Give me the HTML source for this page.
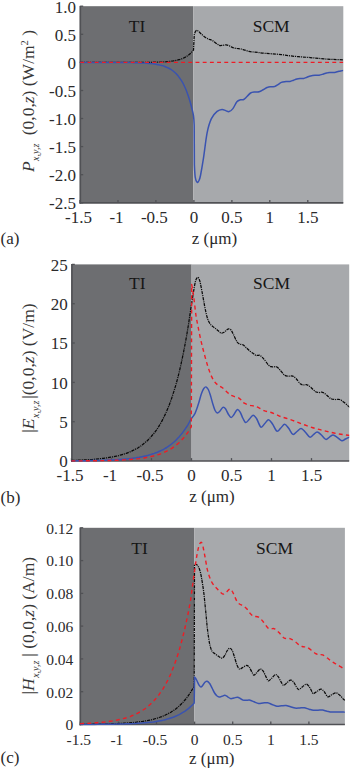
<!DOCTYPE html>
<html><head><meta charset="utf-8"><title>Figure</title>
<style>
html,body{margin:0;padding:0;background:#fff;}
body{width:350px;height:769px;overflow:hidden;}
svg{display:block;font-family:"Liberation Serif",serif;fill:#2b2a2b;}
</style></head><body>
<svg width="350" height="769" viewBox="0 0 350 769">
<rect x="0" y="0" width="350" height="769" fill="#ffffff"/>
<rect x="80.3" y="6.2" width="113.0" height="196.6" fill="#6d6e71"/>
<rect x="193.3" y="6.2" width="150.0" height="196.6" fill="#a7a9ac"/>
<clipPath id="ca"><rect x="79.3" y="5.2" width="264.0" height="198.6"/></clipPath>
<line x1="80.3" y1="5.9" x2="80.3" y2="203.7" stroke="#505155" stroke-width="1.7"/>
<line x1="79.5" y1="202.8" x2="343.3" y2="202.8" stroke="#505155" stroke-width="1.7"/>
<line x1="80.3" y1="202.8" x2="83.2" y2="202.8" stroke="#505155" stroke-width="1.3"/>
<text x="75.9" y="209.2" font-size="17" text-anchor="end" >-2.5</text>
<line x1="80.3" y1="174.7" x2="83.2" y2="174.7" stroke="#505155" stroke-width="1.3"/>
<text x="75.9" y="181.1" font-size="17" text-anchor="end" >-2.0</text>
<line x1="80.3" y1="146.6" x2="83.2" y2="146.6" stroke="#505155" stroke-width="1.3"/>
<text x="75.9" y="153.0" font-size="17" text-anchor="end" >-1.5</text>
<line x1="80.3" y1="118.5" x2="83.2" y2="118.5" stroke="#505155" stroke-width="1.3"/>
<text x="75.9" y="124.9" font-size="17" text-anchor="end" >-1.0</text>
<line x1="80.3" y1="90.5" x2="83.2" y2="90.5" stroke="#505155" stroke-width="1.3"/>
<text x="75.9" y="96.9" font-size="17" text-anchor="end" >-0.5</text>
<line x1="80.3" y1="62.4" x2="83.2" y2="62.4" stroke="#505155" stroke-width="1.3"/>
<text x="75.9" y="68.8" font-size="17" text-anchor="end" >0</text>
<line x1="80.3" y1="34.3" x2="83.2" y2="34.3" stroke="#505155" stroke-width="1.3"/>
<text x="75.9" y="40.7" font-size="17" text-anchor="end" >0.5</text>
<line x1="80.3" y1="6.2" x2="83.2" y2="6.2" stroke="#505155" stroke-width="1.3"/>
<text x="75.9" y="12.6" font-size="17" text-anchor="end" >1.0</text>
<line x1="80.0" y1="202.8" x2="80.0" y2="199.9" stroke="#505155" stroke-width="1.3"/>
<text x="78.5" y="222.6" font-size="17" text-anchor="middle" >-1.5</text>
<line x1="118.0" y1="202.8" x2="118.0" y2="199.9" stroke="#505155" stroke-width="1.3"/>
<text x="116.5" y="222.6" font-size="17" text-anchor="middle" >-1</text>
<line x1="155.9" y1="202.8" x2="155.9" y2="199.9" stroke="#505155" stroke-width="1.3"/>
<text x="154.4" y="222.6" font-size="17" text-anchor="middle" >-0.5</text>
<line x1="193.9" y1="202.8" x2="193.9" y2="199.9" stroke="#505155" stroke-width="1.3"/>
<text x="193.9" y="222.6" font-size="17" text-anchor="middle" >0</text>
<line x1="231.9" y1="202.8" x2="231.9" y2="199.9" stroke="#505155" stroke-width="1.3"/>
<text x="231.9" y="222.6" font-size="17" text-anchor="middle" >0.5</text>
<line x1="269.8" y1="202.8" x2="269.8" y2="199.9" stroke="#505155" stroke-width="1.3"/>
<text x="269.8" y="222.6" font-size="17" text-anchor="middle" >1</text>
<line x1="307.8" y1="202.8" x2="307.8" y2="199.9" stroke="#505155" stroke-width="1.3"/>
<text x="307.8" y="222.6" font-size="17" text-anchor="middle" >1.5</text>
<g clip-path="url(#ca)">
<path d="M79.8,62.4C80.3,62.4 81.8,62.4 82.8,62.4C83.7,62.4 84.7,62.4 85.7,62.4C86.6,62.4 87.6,62.4 88.6,62.4C89.6,62.4 90.5,62.4 91.5,62.4C92.5,62.4 93.4,62.4 94.4,62.4C95.4,62.4 96.4,62.4 97.3,62.4C98.3,62.4 99.3,62.4 100.2,62.4C101.2,62.4 102.2,62.4 103.2,62.4C104.1,62.4 105.1,62.4 106.1,62.4C107.0,62.4 108.0,62.4 109.0,62.4C110.0,62.4 110.9,62.4 111.9,62.4C112.9,62.4 113.8,62.4 114.8,62.4C115.8,62.4 116.8,62.4 117.7,62.4C118.7,62.4 119.7,62.4 120.6,62.4C121.6,62.4 122.6,62.4 123.6,62.4C124.5,62.4 125.5,62.4 126.5,62.4C127.4,62.4 128.4,62.4 129.4,62.4C130.3,62.4 131.3,62.4 132.3,62.4C133.3,62.4 134.2,62.4 135.2,62.4C136.2,62.4 137.1,62.4 138.1,62.4C139.1,62.4 140.1,62.4 141.0,62.4C142.0,62.3 143.0,62.3 143.9,62.3C144.9,62.3 145.9,62.3 146.9,62.3C147.8,62.3 148.8,62.3 149.8,62.3C150.7,62.3 151.7,62.2 152.7,62.2C153.7,62.2 154.6,62.2 155.6,62.2C156.6,62.1 157.5,62.1 158.5,62.1C159.5,62.1 160.5,62.0 161.4,62.0C162.4,61.9 163.4,61.9 164.3,61.8C165.3,61.8 166.3,61.7 167.3,61.6C168.2,61.5 169.2,61.5 170.2,61.3C171.1,61.2 172.1,61.1 173.1,61.0C174.0,60.8 175.0,60.6 176.0,60.4C177.0,60.2 177.9,60.0 178.9,59.7C179.9,59.5 180.8,59.2 181.8,58.8C182.8,58.4 183.8,58.0 184.7,57.5C185.7,57.0 186.7,56.4 187.6,55.7C188.6,55.0 189.6,54.3 190.6,53.3C191.5,52.4 193.0,50.6 193.5,50.1L194.3,34.5C194.5,34.0 195.0,32.3 195.4,31.6C195.8,30.9 196.3,30.4 196.9,30.4C197.5,30.4 198.1,31.1 198.8,31.6C199.5,32.2 199.9,32.7 201.0,33.7C202.1,34.7 204.3,36.7 205.6,37.6C206.9,38.5 207.9,38.7 209.0,39.2C210.1,39.7 211.2,39.9 212.4,40.6C213.6,41.3 214.8,42.4 216.0,43.2C217.2,44.0 218.2,45.0 219.3,45.4C220.4,45.8 221.4,45.5 222.5,45.4C223.6,45.3 224.9,44.7 226.1,44.8C227.3,44.9 228.3,45.4 229.5,45.9C230.7,46.4 231.8,47.3 233.0,47.7C234.2,48.1 235.7,48.3 237.0,48.5C238.3,48.7 239.7,48.7 241.0,49.0C242.3,49.3 243.7,49.8 245.0,50.2C246.3,50.6 247.6,51.1 249.0,51.4C250.4,51.7 252.0,51.8 253.5,52.0C255.0,52.2 256.3,52.3 258.1,52.5C259.9,52.7 262.0,53.1 264.3,53.3C266.6,53.5 269.1,53.6 272.0,53.8C274.9,54.0 278.4,54.3 281.4,54.6C284.4,54.9 287.1,55.4 290.0,55.8C292.9,56.1 295.8,56.5 298.6,56.7C301.4,57.0 304.1,57.1 307.0,57.3C309.9,57.5 312.9,57.8 315.7,58.1C318.5,58.4 321.1,58.7 324.0,58.9C326.9,59.1 329.7,59.2 332.9,59.4C336.1,59.5 341.6,59.7 343.3,59.8" fill="none" stroke="#0a0a0a" stroke-width="1.25" stroke-linejoin="round" stroke-dasharray="3.2 0.9 1.1 0.9"/>
<path d="M79.8,62.4C80.3,62.4 81.8,62.4 82.8,62.4C83.7,62.4 84.7,62.4 85.7,62.4C86.6,62.4 87.6,62.4 88.6,62.4C89.6,62.4 90.5,62.4 91.5,62.4C92.5,62.4 93.4,62.4 94.4,62.4C95.4,62.4 96.4,62.4 97.3,62.4C98.3,62.4 99.3,62.4 100.2,62.4C101.2,62.4 102.2,62.4 103.2,62.4C104.1,62.4 105.1,62.4 106.1,62.4C107.0,62.4 108.0,62.4 109.0,62.4C110.0,62.4 110.9,62.4 111.9,62.4C112.9,62.4 113.8,62.4 114.8,62.4C115.8,62.5 116.8,62.5 117.7,62.5C118.7,62.5 119.7,62.5 120.6,62.5C121.6,62.5 122.6,62.5 123.6,62.5C124.5,62.5 125.5,62.5 126.5,62.5C127.4,62.5 128.4,62.6 129.4,62.6C130.3,62.6 131.3,62.6 132.3,62.6C133.3,62.6 134.2,62.7 135.2,62.7C136.2,62.7 137.1,62.7 138.1,62.8C139.1,62.8 140.1,62.8 141.0,62.9C142.0,62.9 143.0,63.0 143.9,63.0C144.9,63.1 145.9,63.1 146.9,63.2C147.8,63.3 148.8,63.4 149.8,63.5C150.7,63.6 151.7,63.7 152.7,63.8C153.7,63.9 154.6,64.0 155.6,64.2C156.6,64.4 157.5,64.5 158.5,64.7C159.5,64.9 160.5,65.2 161.4,65.4C162.4,65.7 163.4,66.0 164.3,66.3C165.3,66.7 166.3,67.0 167.3,67.5C168.2,67.9 169.2,68.4 170.2,69.0C171.1,69.6 172.1,70.2 173.1,71.0C174.0,71.7 175.0,72.6 176.0,73.5C177.0,74.5 177.9,75.6 178.9,76.9C179.9,78.1 180.8,79.5 181.8,81.2C182.8,82.8 183.8,84.7 184.7,86.8C185.7,88.9 186.7,91.3 187.6,94.1C188.6,96.9 189.6,99.9 190.6,103.5C191.5,107.1 192.9,112.0 193.5,115.8C194.1,119.5 194.1,124.3 194.2,126.0L194.4,165.0C194.5,167.0 194.8,174.1 195.2,177.0C195.6,179.9 196.5,181.7 197.1,182.3C197.7,182.9 198.4,181.7 199.0,180.5C199.6,179.3 199.9,178.7 200.6,175.0C201.3,171.3 202.3,165.6 203.4,158.6C204.5,151.6 205.8,139.6 207.1,132.9C208.4,126.2 209.7,122.2 211.4,118.6C213.1,115.0 215.3,112.9 217.1,111.4C218.9,109.9 220.6,109.5 222.0,109.4C223.4,109.3 224.5,110.2 225.7,110.6C226.9,111.0 227.9,111.9 229.1,111.6C230.3,111.3 231.6,110.2 232.9,108.6C234.2,107.0 235.6,103.3 236.9,101.8C238.2,100.3 239.4,100.2 240.5,99.8C241.6,99.4 242.6,100.0 243.7,99.5C244.8,99.0 245.8,97.6 247.0,96.5C248.2,95.4 249.3,93.8 250.6,93.0C251.9,92.2 253.6,92.2 255.0,92.0C256.4,91.8 257.7,92.2 259.1,91.8C260.5,91.4 262.1,90.3 263.5,89.5C264.9,88.7 266.4,87.7 267.7,87.2C268.9,86.7 269.9,86.8 271.0,86.7C272.1,86.6 273.4,86.9 274.6,86.6C275.8,86.2 276.9,85.3 278.0,84.6C279.1,83.9 280.1,82.9 281.4,82.4C282.7,81.9 284.6,81.8 286.0,81.6C287.4,81.4 288.8,81.7 290.0,81.5C291.2,81.3 292.4,80.6 293.5,80.2C294.6,79.8 295.8,79.3 296.9,79.0C298.0,78.7 298.9,78.6 300.0,78.5C301.1,78.4 302.5,78.6 303.7,78.4C304.9,78.2 305.9,77.6 307.0,77.2C308.1,76.8 309.3,76.2 310.6,75.9C311.9,75.6 313.6,75.4 315.0,75.3C316.4,75.2 317.7,75.4 319.1,75.2C320.5,75.0 322.1,74.4 323.5,74.0C324.9,73.6 326.4,73.0 327.7,72.8C328.9,72.5 329.9,72.6 331.0,72.5C332.1,72.4 333.3,72.6 334.6,72.4C335.9,72.2 337.6,71.6 339.0,71.3C340.4,71.0 342.6,70.6 343.3,70.4" fill="none" stroke="#3a53b0" stroke-width="1.5" stroke-linejoin="round"/>
<path d="M80.3,62.4L343.3,62.4" fill="none" stroke="#ee1c25" stroke-width="1.4" stroke-linejoin="round" stroke-dasharray="3.9 3.3"/>
</g>
<rect x="71.9" y="264.4" width="119.7" height="196.6" fill="#6d6e71"/>
<rect x="191.6" y="264.4" width="157.6" height="196.6" fill="#a7a9ac"/>
<clipPath id="cb"><rect x="70.9" y="263.4" width="278.3" height="198.6"/></clipPath>
<line x1="71.9" y1="264.1" x2="71.9" y2="461.9" stroke="#505155" stroke-width="1.7"/>
<line x1="71.1" y1="461.0" x2="349.2" y2="461.0" stroke="#505155" stroke-width="1.7"/>
<line x1="71.9" y1="461.0" x2="74.8" y2="461.0" stroke="#505155" stroke-width="1.3"/>
<text x="67.7" y="467.4" font-size="17" text-anchor="end" >0</text>
<line x1="71.9" y1="421.7" x2="74.8" y2="421.7" stroke="#505155" stroke-width="1.3"/>
<text x="67.7" y="428.1" font-size="17" text-anchor="end" >5</text>
<line x1="71.9" y1="382.4" x2="74.8" y2="382.4" stroke="#505155" stroke-width="1.3"/>
<text x="67.7" y="388.8" font-size="17" text-anchor="end" >10</text>
<line x1="71.9" y1="343.0" x2="74.8" y2="343.0" stroke="#505155" stroke-width="1.3"/>
<text x="67.7" y="349.4" font-size="17" text-anchor="end" >15</text>
<line x1="71.9" y1="303.7" x2="74.8" y2="303.7" stroke="#505155" stroke-width="1.3"/>
<text x="67.7" y="310.1" font-size="17" text-anchor="end" >20</text>
<line x1="71.9" y1="264.4" x2="74.8" y2="264.4" stroke="#505155" stroke-width="1.3"/>
<text x="67.7" y="270.8" font-size="17" text-anchor="end" >25</text>
<line x1="71.5" y1="461.0" x2="71.5" y2="458.1" stroke="#505155" stroke-width="1.3"/>
<text x="70.0" y="480.8" font-size="17" text-anchor="middle" >-1.5</text>
<line x1="111.5" y1="461.0" x2="111.5" y2="458.1" stroke="#505155" stroke-width="1.3"/>
<text x="110.0" y="480.8" font-size="17" text-anchor="middle" >-1</text>
<line x1="151.5" y1="461.0" x2="151.5" y2="458.1" stroke="#505155" stroke-width="1.3"/>
<text x="150.0" y="480.8" font-size="17" text-anchor="middle" >-0.5</text>
<line x1="191.5" y1="461.0" x2="191.5" y2="458.1" stroke="#505155" stroke-width="1.3"/>
<text x="191.5" y="480.8" font-size="17" text-anchor="middle" >0</text>
<line x1="231.5" y1="461.0" x2="231.5" y2="458.1" stroke="#505155" stroke-width="1.3"/>
<text x="231.5" y="480.8" font-size="17" text-anchor="middle" >0.5</text>
<line x1="271.5" y1="461.0" x2="271.5" y2="458.1" stroke="#505155" stroke-width="1.3"/>
<text x="271.5" y="480.8" font-size="17" text-anchor="middle" >1</text>
<line x1="311.5" y1="461.0" x2="311.5" y2="458.1" stroke="#505155" stroke-width="1.3"/>
<text x="311.5" y="480.8" font-size="17" text-anchor="middle" >1.5</text>
<g clip-path="url(#cb)">
<path d="M71.5,460.4C72.0,460.4 73.5,460.3 74.5,460.3C75.5,460.3 76.6,460.2 77.6,460.2C78.6,460.2 79.6,460.1 80.6,460.1C81.6,460.0 82.6,460.0 83.6,459.9C84.6,459.9 85.6,459.8 86.7,459.8C87.7,459.7 88.7,459.7 89.7,459.6C90.7,459.5 91.7,459.4 92.7,459.4C93.7,459.3 94.7,459.2 95.7,459.1C96.8,459.0 97.8,458.9 98.8,458.8C99.8,458.7 100.8,458.6 101.8,458.5C102.8,458.4 103.8,458.3 104.8,458.1C105.8,458.0 106.9,457.9 107.9,457.7C108.9,457.6 109.9,457.4 110.9,457.2C111.9,457.0 112.9,456.9 113.9,456.7C114.9,456.4 116.0,456.2 117.0,456.0C118.0,455.8 119.0,455.5 120.0,455.2C121.0,455.0 122.0,454.7 123.0,454.4C124.0,454.1 125.0,453.7 126.1,453.4C127.1,453.0 128.1,452.6 129.1,452.2C130.1,451.8 131.1,451.4 132.1,450.9C133.1,450.4 134.1,449.9 135.1,449.4C136.2,448.9 137.2,448.3 138.2,447.7C139.2,447.0 140.2,446.4 141.2,445.7C142.2,444.9 143.2,444.2 144.2,443.3C145.2,442.5 146.3,441.6 147.3,440.7C148.3,439.7 149.3,438.7 150.3,437.6C151.3,436.5 152.3,435.4 153.3,434.1C154.3,432.9 155.4,431.5 156.4,430.1C157.4,428.6 158.4,427.1 159.4,425.4C160.4,423.7 161.4,422.0 162.4,420.1C163.4,418.1 164.4,416.1 165.5,413.9C166.5,411.7 167.5,409.3 168.5,406.8C169.5,404.3 170.5,401.6 171.5,398.7C172.5,395.7 173.5,392.6 174.5,389.3C175.6,385.9 176.6,382.3 177.6,378.5C178.6,374.6 179.6,370.5 180.6,366.1C181.6,361.6 182.6,356.9 183.6,351.8C184.6,346.7 185.7,341.2 186.7,335.3C187.7,329.4 188.8,322.4 189.7,316.4C190.6,310.4 191.4,304.7 192.3,299.3C193.2,293.9 194.2,287.3 194.9,283.9C195.6,280.5 195.8,280.1 196.3,279.0C196.8,277.9 197.3,277.3 197.8,277.3C198.3,277.3 198.8,278.1 199.2,279.2C199.6,280.3 199.8,280.5 200.5,283.9C201.2,287.2 202.7,295.3 203.4,299.3C204.2,303.3 204.4,305.1 205.0,308.0C205.6,310.9 206.3,314.2 206.9,316.4C207.5,318.6 207.9,319.7 208.5,321.0C209.1,322.3 209.6,323.2 210.3,324.1C211.0,325.0 211.8,325.7 212.7,326.4C213.5,327.1 214.4,327.6 215.4,328.4C216.4,329.2 217.5,330.2 218.5,331.0C219.5,331.8 220.5,333.0 221.4,333.2C222.3,333.4 223.1,332.7 224.0,332.2C224.9,331.7 225.8,330.7 226.6,330.1C227.4,329.6 227.9,328.9 228.6,328.9C229.3,328.9 230.2,329.1 231.0,330.0C231.8,330.9 232.5,332.5 233.5,334.5C234.5,336.5 236.0,340.4 237.1,342.0C238.2,343.6 239.0,343.7 240.0,344.2C241.0,344.7 241.9,344.2 242.9,344.8C243.9,345.4 244.8,346.4 246.0,347.5C247.2,348.6 248.7,350.1 250.0,351.2C251.3,352.3 253.0,353.3 254.0,354.0C255.0,354.7 255.4,355.3 256.1,355.5C256.8,355.7 257.3,355.4 258.0,355.4C258.7,355.4 259.1,354.9 260.1,355.5C261.1,356.1 262.7,357.7 264.1,359.3C265.5,360.9 267.4,364.1 268.7,365.3C270.0,366.6 270.8,366.5 272.1,366.8C273.4,367.1 275.4,366.3 276.7,366.9C278.0,367.4 278.8,368.7 280.1,370.1C281.4,371.5 283.3,374.2 284.7,375.2C286.1,376.2 287.2,376.0 288.5,376.2C289.8,376.4 291.4,375.7 292.7,376.1C293.9,376.5 294.7,377.2 296.0,378.5C297.3,379.8 299.1,382.7 300.3,383.8C301.6,384.9 302.4,384.7 303.5,384.9C304.6,385.1 305.9,384.4 307.1,384.8C308.4,385.2 309.6,386.3 311.0,387.5C312.4,388.7 314.4,391.0 315.7,391.8C317.0,392.6 317.9,392.4 319.0,392.5C320.1,392.6 321.4,391.9 322.6,392.3C323.9,392.7 325.1,393.9 326.5,395.0C327.9,396.1 329.6,398.1 331.1,398.8C332.6,399.6 334.1,399.4 335.5,399.5C336.9,399.6 338.3,399.0 339.7,399.5C341.1,400.0 342.6,401.2 344.0,402.3C345.4,403.4 347.3,405.2 348.3,406.1C349.3,407.0 349.7,407.3 350.0,407.5" fill="none" stroke="#0a0a0a" stroke-width="1.25" stroke-linejoin="round" stroke-dasharray="3.2 0.9 1.1 0.9"/>
<path d="M71.5,460.8C72.0,460.8 73.5,460.8 74.6,460.8C75.6,460.8 76.6,460.8 77.6,460.8C78.7,460.8 79.7,460.8 80.7,460.8C81.7,460.7 82.8,460.7 83.8,460.7C84.8,460.7 85.8,460.7 86.9,460.7C87.9,460.7 88.9,460.6 89.9,460.6C90.9,460.6 92.0,460.6 93.0,460.6C94.0,460.5 95.0,460.5 96.1,460.5C97.1,460.5 98.1,460.4 99.1,460.4C100.2,460.4 101.2,460.4 102.2,460.3C103.2,460.3 104.3,460.3 105.3,460.2C106.3,460.2 107.3,460.1 108.3,460.1C109.4,460.1 110.4,460.0 111.4,460.0C112.4,459.9 113.5,459.9 114.5,459.8C115.5,459.8 116.5,459.7 117.6,459.6C118.6,459.6 119.6,459.5 120.6,459.4C121.7,459.3 122.7,459.3 123.7,459.2C124.7,459.1 125.8,459.0 126.8,458.9C127.8,458.8 128.8,458.7 129.8,458.6C130.9,458.4 131.9,458.3 132.9,458.2C133.9,458.1 135.0,457.9 136.0,457.8C137.0,457.6 138.0,457.4 139.1,457.3C140.1,457.1 141.1,456.9 142.1,456.7C143.2,456.5 144.2,456.3 145.2,456.0C146.2,455.8 147.2,455.5 148.3,455.3C149.3,455.0 150.3,454.7 151.3,454.4C152.4,454.1 153.4,453.7 154.4,453.4C155.4,453.0 156.5,452.6 157.5,452.2C158.5,451.8 159.5,451.3 160.6,450.8C161.6,450.4 162.6,449.8 163.6,449.3C164.6,448.7 165.7,448.1 166.7,447.5C167.7,446.8 168.7,446.2 169.8,445.4C170.8,444.7 171.8,443.9 172.8,443.0C173.9,442.2 174.9,441.3 175.9,440.3C176.9,439.3 178.0,438.2 179.0,437.1C180.0,435.9 181.0,434.7 182.0,433.4C183.1,432.1 184.1,430.7 185.1,429.2C186.1,427.7 187.2,426.0 188.2,424.3C189.2,422.5 190.5,420.0 191.3,418.7C192.1,417.4 192.4,417.3 193.0,416.5C193.6,415.7 194.2,415.0 194.9,413.7C195.6,412.4 196.2,410.4 196.9,408.5C197.6,406.6 198.2,404.5 199.0,402.0C199.8,399.5 200.6,395.9 201.4,393.7C202.2,391.4 203.0,389.6 203.8,388.5C204.6,387.4 205.2,386.7 206.0,386.9C206.8,387.1 207.5,388.0 208.3,389.5C209.1,391.0 209.8,393.5 210.6,396.0C211.4,398.5 212.2,402.1 213.0,404.5C213.8,406.9 214.4,409.1 215.1,410.5C215.8,411.9 216.6,412.8 217.4,412.9C218.2,413.0 219.1,411.9 220.0,411.0C220.9,410.1 222.0,407.8 222.9,407.4C223.8,407.0 224.6,407.6 225.5,408.8C226.4,410.0 227.6,413.1 228.5,414.5C229.4,415.9 230.2,417.5 231.1,417.5C232.0,417.5 233.0,415.8 234.0,414.5C235.0,413.2 236.1,410.1 237.1,409.7C238.1,409.2 239.0,410.3 240.0,411.8C241.0,413.3 242.0,416.7 243.0,418.5C244.0,420.3 244.7,422.4 245.8,422.5C246.9,422.6 248.3,420.2 249.5,419.0C250.7,417.8 251.9,415.3 253.1,415.2C254.3,415.1 255.2,416.5 256.5,418.5C257.8,420.5 259.5,426.3 260.9,427.1C262.3,427.9 263.5,424.7 264.8,423.5C266.1,422.3 267.3,419.7 268.6,419.8C269.9,419.9 271.1,422.1 272.5,424.0C273.9,425.9 275.5,430.5 276.9,431.2C278.3,431.9 279.5,429.1 280.8,428.0C282.1,426.9 283.3,424.3 284.6,424.3C285.9,424.3 287.1,426.3 288.5,428.0C289.9,429.7 291.5,433.8 292.9,434.4C294.3,435.0 295.6,432.5 297.0,431.5C298.4,430.5 299.7,428.4 301.1,428.5C302.5,428.6 303.8,430.6 305.2,432.0C306.6,433.4 308.4,436.7 309.8,437.1C311.2,437.5 312.3,435.4 313.5,434.6C314.7,433.8 315.8,432.1 317.1,432.1C318.4,432.1 319.8,433.6 321.2,434.8C322.6,436.0 324.4,439.0 325.8,439.4C327.2,439.8 328.3,437.9 329.5,437.1C330.7,436.4 331.8,434.9 333.1,434.9C334.4,434.9 335.8,436.3 337.2,437.3C338.6,438.3 340.4,440.5 341.8,440.8C343.2,441.1 344.1,439.7 345.5,439.0C346.9,438.3 349.2,437.2 350.0,436.8" fill="none" stroke="#3a53b0" stroke-width="1.5" stroke-linejoin="round"/>
<path d="M71.5,460.9C72.0,460.9 73.5,460.9 74.6,460.9C75.6,460.9 76.6,460.9 77.6,460.9C78.7,460.9 79.7,460.9 80.7,460.9C81.7,460.9 82.8,460.9 83.8,460.9C84.8,460.8 85.8,460.8 86.9,460.8C87.9,460.8 88.9,460.8 89.9,460.8C90.9,460.8 92.0,460.8 93.0,460.8C94.0,460.8 95.0,460.7 96.1,460.7C97.1,460.7 98.1,460.7 99.1,460.7C100.2,460.7 101.2,460.6 102.2,460.6C103.2,460.6 104.3,460.6 105.3,460.6C106.3,460.5 107.3,460.5 108.3,460.5C109.4,460.5 110.4,460.4 111.4,460.4C112.4,460.4 113.5,460.3 114.5,460.3C115.5,460.3 116.5,460.2 117.6,460.2C118.6,460.1 119.6,460.1 120.6,460.0C121.7,460.0 122.7,459.9 123.7,459.9C124.7,459.8 125.8,459.8 126.8,459.7C127.8,459.6 128.8,459.6 129.8,459.5C130.9,459.4 131.9,459.3 132.9,459.2C133.9,459.1 135.0,459.0 136.0,458.9C137.0,458.8 138.0,458.7 139.1,458.6C140.1,458.4 141.1,458.3 142.1,458.2C143.2,458.0 144.2,457.9 145.2,457.7C146.2,457.5 147.2,457.3 148.3,457.1C149.3,456.9 150.3,456.7 151.3,456.5C152.4,456.2 153.4,456.0 154.4,455.7C155.4,455.4 156.5,455.1 157.5,454.8C158.5,454.5 159.5,454.2 160.6,453.8C161.6,453.4 162.6,453.0 163.6,452.6C164.6,452.1 165.7,451.7 166.7,451.2C167.7,450.6 168.7,450.1 169.8,449.5C170.8,448.9 171.8,448.3 172.8,447.6C173.9,446.9 174.9,446.1 175.9,445.3C176.9,444.5 178.0,443.6 179.0,442.7C180.0,441.7 181.0,440.7 182.0,439.6C183.1,438.5 184.1,437.3 185.1,436.0C186.1,434.7 187.2,433.3 188.2,431.8C189.2,430.2 190.7,427.7 191.3,426.9L191.7,284.5C191.9,285.8 192.6,289.2 193.0,292.0C193.4,294.8 193.8,297.7 194.3,301.5C194.8,305.3 195.3,310.9 195.9,315.0C196.5,319.1 197.2,322.1 198.0,326.4C198.8,330.6 199.9,336.2 200.9,340.5C201.9,344.8 202.7,348.0 203.8,352.1C204.9,356.2 206.2,361.2 207.4,365.0C208.6,368.8 209.7,372.2 210.9,375.0C212.1,377.8 213.2,379.8 214.4,381.5C215.6,383.2 216.7,384.1 217.8,385.0C218.9,385.9 219.7,386.1 220.8,386.8C221.9,387.5 223.2,388.3 224.3,389.3C225.4,390.3 226.5,391.7 227.5,392.6C228.5,393.6 229.3,394.3 230.5,395.0C231.7,395.7 233.2,396.1 234.5,396.6C235.8,397.1 237.4,397.2 238.6,397.9C239.8,398.5 240.6,399.6 241.5,400.5C242.4,401.4 243.0,402.4 244.3,403.2C245.6,404.0 247.8,404.7 249.4,405.2C251.0,405.7 252.5,405.6 254.0,406.0C255.5,406.4 256.9,406.9 258.6,407.7C260.3,408.5 262.1,409.9 264.0,410.6C265.9,411.4 268.0,411.6 270.0,412.2C272.0,412.8 274.1,413.7 276.0,414.5C277.9,415.3 279.4,416.1 281.4,416.8C283.4,417.5 285.7,418.1 288.0,418.9C290.3,419.6 292.8,420.4 295.1,421.3C297.4,422.2 299.7,423.1 302.0,424.0C304.3,424.9 306.6,425.6 308.9,426.4C311.2,427.2 313.7,428.0 316.0,428.6C318.3,429.2 320.4,429.8 322.6,430.3C324.8,430.9 326.7,431.4 329.0,431.9C331.3,432.4 334.0,433.1 336.3,433.5C338.6,433.9 340.7,434.3 343.0,434.6C345.3,434.9 348.8,435.3 350.0,435.4" fill="none" stroke="#ee1c25" stroke-width="1.4" stroke-linejoin="round" stroke-dasharray="3.9 3.3"/>
</g>
<rect x="80.3" y="527.8" width="113.9" height="196.7" fill="#6d6e71"/>
<rect x="194.2" y="527.8" width="150.7" height="196.7" fill="#a7a9ac"/>
<clipPath id="cc"><rect x="79.3" y="526.8" width="265.6" height="198.7"/></clipPath>
<line x1="80.3" y1="527.5" x2="80.3" y2="725.4" stroke="#505155" stroke-width="1.7"/>
<line x1="79.5" y1="724.5" x2="344.9" y2="724.5" stroke="#505155" stroke-width="1.7"/>
<line x1="80.3" y1="724.5" x2="83.2" y2="724.5" stroke="#505155" stroke-width="1.3"/>
<text x="73.3" y="730.3" font-size="15.5" text-anchor="end" >0</text>
<line x1="80.3" y1="691.7" x2="83.2" y2="691.7" stroke="#505155" stroke-width="1.3"/>
<text x="73.3" y="697.6" font-size="15.5" text-anchor="end" >0.02</text>
<line x1="80.3" y1="658.9" x2="83.2" y2="658.9" stroke="#505155" stroke-width="1.3"/>
<text x="73.3" y="664.8" font-size="15.5" text-anchor="end" >0.04</text>
<line x1="80.3" y1="626.1" x2="83.2" y2="626.1" stroke="#505155" stroke-width="1.3"/>
<text x="73.3" y="632.0" font-size="15.5" text-anchor="end" >0.06</text>
<line x1="80.3" y1="593.4" x2="83.2" y2="593.4" stroke="#505155" stroke-width="1.3"/>
<text x="73.3" y="599.2" font-size="15.5" text-anchor="end" >0.08</text>
<line x1="80.3" y1="560.6" x2="83.2" y2="560.6" stroke="#505155" stroke-width="1.3"/>
<text x="73.3" y="566.4" font-size="15.5" text-anchor="end" >0.10</text>
<line x1="80.3" y1="527.8" x2="83.2" y2="527.8" stroke="#505155" stroke-width="1.3"/>
<text x="73.3" y="533.6" font-size="15.5" text-anchor="end" >0.12</text>
<line x1="80.3" y1="724.5" x2="80.3" y2="721.6" stroke="#505155" stroke-width="1.3"/>
<text x="78.8" y="744.5" font-size="15.5" text-anchor="middle" >-1.5</text>
<line x1="118.4" y1="724.5" x2="118.4" y2="721.6" stroke="#505155" stroke-width="1.3"/>
<text x="116.9" y="744.5" font-size="15.5" text-anchor="middle" >-1</text>
<line x1="156.5" y1="724.5" x2="156.5" y2="721.6" stroke="#505155" stroke-width="1.3"/>
<text x="155.0" y="744.5" font-size="15.5" text-anchor="middle" >-0.5</text>
<line x1="194.6" y1="724.5" x2="194.6" y2="721.6" stroke="#505155" stroke-width="1.3"/>
<text x="194.6" y="744.5" font-size="15.5" text-anchor="middle" >0</text>
<line x1="232.7" y1="724.5" x2="232.7" y2="721.6" stroke="#505155" stroke-width="1.3"/>
<text x="232.7" y="744.5" font-size="15.5" text-anchor="middle" >0.5</text>
<line x1="270.8" y1="724.5" x2="270.8" y2="721.6" stroke="#505155" stroke-width="1.3"/>
<text x="270.8" y="744.5" font-size="15.5" text-anchor="middle" >1</text>
<line x1="308.9" y1="724.5" x2="308.9" y2="721.6" stroke="#505155" stroke-width="1.3"/>
<text x="308.9" y="744.5" font-size="15.5" text-anchor="middle" >1.5</text>
<g clip-path="url(#cc)">
<path d="M80.1,724.3C80.6,724.3 82.0,724.3 83.0,724.3C84.0,724.3 85.0,724.3 85.9,724.3C86.9,724.3 87.9,724.3 88.9,724.3C89.8,724.3 90.8,724.2 91.8,724.2C92.8,724.2 93.7,724.2 94.7,724.2C95.7,724.2 96.7,724.2 97.6,724.1C98.6,724.1 99.6,724.1 100.6,724.1C101.5,724.1 102.5,724.1 103.5,724.0C104.5,724.0 105.4,724.0 106.4,724.0C107.4,723.9 108.4,723.9 109.3,723.9C110.3,723.8 111.3,723.8 112.3,723.8C113.2,723.7 114.2,723.7 115.2,723.7C116.2,723.6 117.1,723.6 118.1,723.5C119.1,723.5 120.1,723.5 121.0,723.4C122.0,723.3 123.0,723.3 124.0,723.2C124.9,723.2 125.9,723.1 126.9,723.0C127.9,723.0 128.8,722.9 129.8,722.8C130.8,722.7 131.8,722.7 132.7,722.6C133.7,722.5 134.7,722.4 135.7,722.3C136.6,722.2 137.6,722.0 138.6,721.9C139.6,721.8 140.5,721.7 141.5,721.5C142.5,721.4 143.5,721.2 144.4,721.1C145.4,720.9 146.4,720.7 147.4,720.6C148.3,720.4 149.3,720.2 150.3,720.0C151.3,719.7 152.2,719.5 153.2,719.3C154.2,719.0 155.2,718.7 156.1,718.5C157.1,718.2 158.1,717.9 159.1,717.5C160.0,717.2 161.0,716.9 162.0,716.5C163.0,716.1 163.9,715.7 164.9,715.3C165.9,714.8 166.9,714.3 167.8,713.8C168.8,713.3 169.8,712.8 170.8,712.2C171.7,711.6 172.7,711.0 173.7,710.3C174.7,709.7 175.6,709.0 176.6,708.2C177.6,707.4 178.6,706.6 179.5,705.7C180.5,704.8 181.5,703.8 182.5,702.8C183.4,701.8 184.4,700.7 185.4,699.5C186.4,698.3 187.3,697.1 188.3,695.7C189.3,694.3 190.3,692.9 191.2,691.3C192.2,689.7 193.7,687.1 194.2,686.2L194.5,564.3C194.8,564.3 195.8,564.1 196.5,564.6C197.2,565.1 198.0,566.0 198.6,567.1C199.2,568.2 199.5,569.3 200.0,571.0C200.5,572.7 200.8,573.6 201.4,577.1C202.0,580.6 203.0,586.3 203.7,592.0C204.4,597.7 205.1,605.6 205.7,611.4C206.3,617.2 206.7,622.6 207.2,627.0C207.7,631.4 208.1,634.4 208.6,637.5C209.1,640.6 209.4,643.2 210.0,645.5C210.6,647.8 211.1,649.6 211.9,651.0C212.7,652.4 213.7,652.8 215.0,653.8C216.3,654.8 218.4,656.5 219.7,657.2C220.9,657.9 221.6,658.4 222.5,658.0C223.4,657.6 224.2,656.2 225.0,655.0C225.8,653.8 226.5,651.6 227.3,650.5C228.1,649.4 229.0,648.2 229.8,648.2C230.6,648.2 231.4,649.1 232.2,650.5C232.9,651.9 233.5,654.1 234.3,656.5C235.1,658.9 236.0,662.5 236.8,664.6C237.7,666.7 238.5,668.6 239.4,669.1C240.3,669.6 241.3,668.2 242.5,667.6C243.7,667.0 245.4,665.5 246.5,665.4C247.6,665.3 248.3,666.2 249.2,667.2C250.1,668.2 250.9,670.4 251.7,671.7C252.5,673.0 253.0,675.0 253.8,675.2C254.6,675.4 255.6,673.7 256.7,672.7C257.8,671.7 259.1,669.4 260.2,669.1C261.3,668.9 262.2,669.9 263.2,671.2C264.2,672.6 265.3,675.6 266.2,677.2C267.1,678.8 267.5,680.6 268.4,680.8C269.3,681.0 270.5,679.2 271.7,678.2C272.9,677.2 274.2,674.9 275.3,674.6C276.4,674.4 277.2,675.4 278.2,676.7C279.2,678.0 280.3,680.8 281.2,682.2C282.1,683.6 282.6,685.2 283.5,685.3C284.4,685.4 285.6,683.9 286.7,683.0C287.8,682.1 289.3,680.3 290.4,680.1C291.5,679.9 292.5,680.9 293.5,682.0C294.5,683.1 295.3,685.2 296.2,686.5C297.1,687.8 297.6,689.4 298.6,689.5C299.6,689.6 301.0,687.9 302.2,687.0C303.4,686.1 304.8,684.4 305.9,684.2C307.0,684.0 307.8,685.0 308.7,686.0C309.6,687.0 310.4,688.9 311.2,690.2C311.9,691.5 312.2,693.4 313.2,693.6C314.2,693.8 315.9,691.9 317.2,691.2C318.5,690.5 319.8,689.1 321.0,689.2C322.2,689.3 323.1,690.4 324.2,691.7C325.3,693.0 326.6,696.3 327.8,696.8C329.1,697.3 330.3,695.4 331.7,694.7C333.1,694.1 334.8,692.8 336.1,692.9C337.4,693.0 338.4,694.1 339.7,695.2C341.0,696.3 342.8,698.7 343.8,699.5C344.8,700.3 345.3,700.1 345.6,700.2" fill="none" stroke="#0a0a0a" stroke-width="1.25" stroke-linejoin="round" stroke-dasharray="3.2 0.9 1.1 0.9"/>
<path d="M80.1,724.4C80.6,724.4 82.1,724.4 83.0,724.4C84.0,724.4 85.0,724.4 86.0,724.4C86.9,724.4 87.9,724.4 88.9,724.4C89.9,724.4 90.8,724.4 91.8,724.4C92.8,724.4 93.8,724.4 94.7,724.4C95.7,724.4 96.7,724.4 97.7,724.3C98.6,724.3 99.6,724.3 100.6,724.3C101.6,724.3 102.5,724.3 103.5,724.3C104.5,724.3 105.5,724.3 106.4,724.3C107.4,724.2 108.4,724.2 109.4,724.2C110.3,724.2 111.3,724.2 112.3,724.2C113.3,724.2 114.2,724.1 115.2,724.1C116.2,724.1 117.2,724.1 118.1,724.1C119.1,724.0 120.1,724.0 121.1,724.0C122.1,724.0 123.0,723.9 124.0,723.9C125.0,723.9 126.0,723.8 126.9,723.8C127.9,723.8 128.9,723.7 129.9,723.7C130.8,723.7 131.8,723.6 132.8,723.6C133.8,723.5 134.7,723.5 135.7,723.4C136.7,723.4 137.7,723.3 138.6,723.3C139.6,723.2 140.6,723.1 141.6,723.1C142.5,723.0 143.5,722.9 144.5,722.8C145.5,722.7 146.4,722.6 147.4,722.5C148.4,722.4 149.4,722.3 150.3,722.2C151.3,722.1 152.3,722.0 153.3,721.9C154.2,721.7 155.2,721.6 156.2,721.4C157.2,721.3 158.1,721.1 159.1,720.9C160.1,720.8 161.1,720.6 162.1,720.4C163.0,720.2 164.0,719.9 165.0,719.7C166.0,719.5 166.9,719.2 167.9,718.9C168.9,718.6 169.9,718.3 170.8,718.0C171.8,717.7 172.8,717.4 173.8,717.0C174.7,716.6 175.7,716.2 176.7,715.8C177.7,715.3 178.6,714.9 179.6,714.3C180.6,713.8 181.6,713.3 182.5,712.7C183.5,712.1 184.5,711.5 185.5,710.8C186.4,710.1 187.4,709.4 188.4,708.6C189.4,707.8 190.3,706.9 191.3,706.0C192.3,705.1 193.8,703.5 194.2,703.0L194.6,677.1C194.8,677.4 195.5,678.0 196.0,678.8C196.5,679.6 196.9,680.6 197.4,681.7C197.9,682.8 198.6,684.4 199.2,685.3C199.8,686.2 200.3,687.0 200.9,687.0C201.5,687.0 202.0,686.2 202.6,685.5C203.2,684.8 203.8,683.5 204.3,682.9C204.8,682.2 205.2,681.9 205.7,681.6C206.1,681.3 206.5,681.2 207.0,681.3C207.5,681.4 208.0,681.8 208.5,682.2C209.0,682.7 209.4,683.0 210.0,684.0C210.6,685.0 211.5,687.0 212.3,688.5C213.1,690.0 213.8,691.8 214.6,693.0C215.3,694.2 216.1,695.1 216.8,695.8C217.6,696.5 218.2,697.0 219.1,697.1C220.0,697.2 221.0,696.6 222.0,696.3C223.0,696.0 224.0,695.2 224.9,695.3C225.8,695.4 226.8,696.2 227.7,696.8C228.6,697.3 229.5,698.4 230.6,698.6C231.7,698.8 232.9,698.2 234.0,698.0C235.1,697.8 236.3,697.1 237.4,697.2C238.5,697.3 239.4,698.0 240.3,698.5C241.2,699.0 242.1,699.8 243.1,700.1C244.1,700.4 245.4,700.3 246.5,700.3C247.6,700.3 248.2,699.9 249.4,700.1C250.7,700.4 252.5,701.2 254.0,701.8C255.5,702.4 257.1,703.3 258.6,703.5C260.1,703.7 261.5,703.1 263.0,703.0C264.5,702.9 266.2,702.5 267.7,702.7C269.2,703.0 270.5,703.9 272.0,704.5C273.5,705.1 275.3,706.0 276.9,706.2C278.5,706.4 280.0,705.9 281.5,705.8C283.0,705.7 284.5,705.3 286.0,705.5C287.5,705.7 289.0,706.4 290.5,706.8C292.0,707.2 293.5,707.9 295.1,708.1C296.7,708.3 298.5,708.0 300.0,707.9C301.5,707.8 302.8,707.6 304.3,707.8C305.8,708.0 307.5,708.8 309.0,709.2C310.5,709.6 311.9,710.1 313.4,710.3C314.9,710.5 316.5,710.2 318.0,710.2C319.5,710.2 321.1,709.9 322.6,710.1C324.1,710.3 325.5,710.9 327.0,711.2C328.5,711.5 330.0,712.0 331.7,712.1C333.4,712.2 335.1,712.0 337.0,712.0C338.9,712.0 341.8,711.9 343.1,711.9C344.4,711.9 344.6,712.2 344.9,712.2" fill="none" stroke="#3a53b0" stroke-width="1.5" stroke-linejoin="round"/>
<path d="M80.1,723.7C80.6,723.6 82.0,723.6 82.9,723.5C83.9,723.5 84.8,723.5 85.8,723.4C86.7,723.4 87.7,723.3 88.6,723.3C89.5,723.2 90.5,723.2 91.4,723.1C92.4,723.0 93.3,723.0 94.3,722.9C95.2,722.8 96.2,722.8 97.1,722.7C98.0,722.6 99.0,722.5 99.9,722.4C100.9,722.4 101.8,722.3 102.8,722.2C103.7,722.1 104.7,722.0 105.6,721.8C106.5,721.7 107.5,721.6 108.4,721.5C109.4,721.4 110.3,721.2 111.3,721.1C112.2,720.9 113.2,720.8 114.1,720.6C115.0,720.4 116.0,720.3 116.9,720.1C117.9,719.9 118.8,719.7 119.8,719.5C120.7,719.2 121.7,719.0 122.6,718.8C123.5,718.5 124.5,718.3 125.4,718.0C126.4,717.7 127.3,717.4 128.3,717.1C129.2,716.8 130.2,716.4 131.1,716.1C132.0,715.7 133.0,715.3 133.9,714.9C134.9,714.5 135.8,714.1 136.8,713.6C137.7,713.2 138.7,712.7 139.6,712.1C140.5,711.6 141.5,711.0 142.4,710.4C143.4,709.8 144.3,709.2 145.3,708.5C146.2,707.8 147.1,707.1 148.1,706.3C149.0,705.5 150.0,704.7 150.9,703.8C151.9,702.9 152.8,702.0 153.8,701.0C154.7,700.0 155.6,698.9 156.6,697.8C157.5,696.6 158.5,695.4 159.4,694.1C160.4,692.8 161.3,691.5 162.3,690.0C163.2,688.5 164.1,686.9 165.1,685.3C166.0,683.6 167.0,681.8 167.9,679.9C168.9,678.0 169.8,676.0 170.8,673.8C171.7,671.6 172.6,669.3 173.6,666.8C174.5,664.4 175.5,661.8 176.4,658.9C177.4,656.1 178.3,653.2 179.3,650.0C180.2,646.8 181.1,643.4 182.1,639.8C183.0,636.1 184.0,632.3 184.9,628.2C185.9,624.0 186.8,619.7 187.8,615.0C188.7,610.3 189.7,605.3 190.6,600.0C191.4,594.7 192.0,589.2 192.9,583.0C193.8,576.8 194.8,568.9 195.7,562.9C196.6,556.9 197.7,550.5 198.6,547.1C199.5,543.7 200.2,542.7 200.9,542.3C201.6,541.9 202.0,543.2 202.5,544.5C203.0,545.8 203.2,547.6 203.7,550.0C204.2,552.4 204.8,555.9 205.4,559.0C206.0,562.1 206.5,565.9 207.1,568.6C207.7,571.4 208.3,573.4 209.0,575.5C209.7,577.6 210.6,579.7 211.4,581.4C212.2,583.1 213.1,584.3 214.0,585.5C214.9,586.7 216.1,587.8 217.1,588.8C218.1,589.8 218.9,590.9 220.0,591.8C221.1,592.7 222.4,594.1 223.5,594.1C224.6,594.1 225.4,592.9 226.5,592.0C227.6,591.1 229.0,589.1 230.0,589.0C231.0,588.9 231.6,590.1 232.3,591.3C233.1,592.5 233.7,594.3 234.5,596.0C235.3,597.7 236.2,600.2 237.0,601.5C237.8,602.8 238.5,603.3 239.5,604.0C240.5,604.7 241.8,605.0 243.0,605.7C244.2,606.5 245.3,607.2 246.5,608.5C247.7,609.8 248.8,611.9 250.0,613.2C251.2,614.5 252.1,615.6 253.5,616.2C254.9,616.9 257.0,616.2 258.6,617.1C260.2,618.0 261.5,619.7 263.0,621.5C264.5,623.3 266.4,626.5 267.7,627.7C269.0,628.9 269.9,628.5 271.0,628.7C272.1,628.9 273.3,628.2 274.6,628.8C275.9,629.4 277.5,631.0 279.0,632.5C280.5,634.0 282.4,636.7 283.7,637.7C285.0,638.7 285.9,638.4 287.0,638.6C288.1,638.8 289.3,638.3 290.6,638.8C291.9,639.3 293.5,640.4 295.0,641.5C296.5,642.6 298.4,644.6 299.7,645.5C301.0,646.4 301.9,646.4 303.0,646.7C304.1,647.0 305.3,646.6 306.6,647.1C307.9,647.6 309.5,648.9 311.0,650.0C312.5,651.1 314.4,652.9 315.7,653.7C317.0,654.5 317.9,654.4 319.0,654.6C320.1,654.8 321.3,654.4 322.6,654.9C323.9,655.4 325.5,656.7 327.0,657.8C328.5,658.9 330.0,660.4 331.7,661.5C333.4,662.6 335.1,663.4 337.0,664.5C338.9,665.6 341.8,667.5 343.1,668.3C344.4,669.1 344.6,669.3 344.9,669.5" fill="none" stroke="#ee1c25" stroke-width="1.4" stroke-linejoin="round" stroke-dasharray="3.9 3.3"/>
</g>
<text x="137.0" y="31.5" font-size="17.5" text-anchor="middle" fill="#161616">TI</text>
<text x="271.2" y="31.5" font-size="17.5" text-anchor="middle" fill="#161616">SCM</text>
<text x="137.3" y="288.5" font-size="17.5" text-anchor="middle" fill="#161616">TI</text>
<text x="271.5" y="288.5" font-size="17.5" text-anchor="middle" fill="#161616">SCM</text>
<text x="139.6" y="553.8" font-size="17.5" text-anchor="middle" fill="#161616">TI</text>
<text x="274.5" y="553.8" font-size="17.5" text-anchor="middle" fill="#161616">SCM</text>
<text x="214.5" y="243.5" font-size="17" text-anchor="middle" >z (μm)</text>
<text x="212.0" y="501.5" font-size="17" text-anchor="middle" >z (μm)</text>
<text x="211.8" y="764.4" font-size="17" text-anchor="middle" >z (μm)</text>
<text x="0.5" y="243.5" font-size="17" text-anchor="start" >(a)</text>
<text x="0.5" y="502.5" font-size="17" text-anchor="start" >(b)</text>
<text x="0.5" y="762.7" font-size="17" text-anchor="start" >(c)</text>
<text transform="translate(34.3,101.0) rotate(-90)" font-size="17.5" text-anchor="middle" fill="#383838"><tspan font-style="italic">P</tspan><tspan font-style="italic" font-size="10" dy="4.5" dx="0.5">x,y,z</tspan><tspan dy="-4.5" dx="4"> (0,0,</tspan><tspan font-style="italic">z</tspan>) (W/m<tspan font-size="10.5" dy="-6">2</tspan><tspan dy="6"> )</tspan></text>
<text transform="translate(34.3,368.0) rotate(-90)" font-size="17.5" text-anchor="middle" fill="#383838">|<tspan font-style="italic">E</tspan><tspan font-style="italic" font-size="10" dy="4.5" dx="0.5">x,y,z</tspan><tspan dy="-4.5" dx="2">|(0,0,</tspan><tspan font-style="italic">z</tspan>) (V/m)</text>
<text transform="translate(34.3,625.7) rotate(-90)" font-size="17.5" text-anchor="middle" fill="#383838">|<tspan font-style="italic">H</tspan><tspan font-style="italic" font-size="10" dy="4.5" dx="0.5">x,y,z</tspan><tspan dy="-4.5" dx="4">| (0,0,</tspan><tspan font-style="italic">z</tspan>) (A/m)</text>
</svg>
</body></html>
